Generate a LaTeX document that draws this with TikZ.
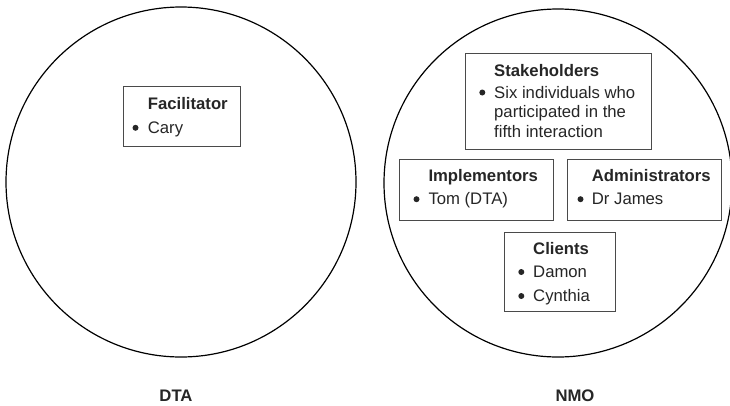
\documentclass[tikz,border=0pt]{standalone}
\usepackage{fontspec}
\setmainfont{Liberation Sans}
\definecolor{txt}{HTML}{262626}
\definecolor{boxgray}{HTML}{4A4A4A}
\begin{document}
\begin{tikzpicture}[x=1pt,y=-1pt,
  circ/.style={circle, draw=black, line width=1.2pt, inner sep=0pt},
  box/.style={rectangle, draw=boxgray, line width=0.9pt, inner sep=0pt, anchor=north west},
  ttl/.style={anchor=base west, inner sep=0pt, font=\fontsize{16.7}{20}\selectfont\bfseries, text=txt},
  itm/.style={anchor=base west, inner sep=0pt, font=\fontsize{16.7}{20}\selectfont, text=txt},
  lbl/.style={anchor=base, inner sep=0pt, font=\fontsize{16.7}{20}\selectfont\bfseries, text=txt},
  dot/.style={circle, fill=txt, inner sep=0pt, minimum size=6pt}]
\useasboundingbox (0,0) rectangle (730,405);
\fill[white] (0,0) rectangle (730,405);

% circles
\node[circ, minimum size=350pt] (dta) at (181,182) {};
\node[circ, minimum size=348pt] (nmo) at (558,183) {};

% Facilitator
\node[box, minimum width=117.6pt, minimum height=59.5pt] (facbox) at (122.7,86.2) {};
\node[ttl] (factitle) at (147.7,109.3) {Facilitator};
\node[dot] (facd1) at (135.5,127.8) {};
\node[itm] (fac1) at (147.7,133.3) {Cary};

% Stakeholders
\node[box, minimum width=185.7pt, minimum height=95.4pt] (stkbox) at (465,53.3) {};
\node[ttl] (stktitle) at (494,76.5) {Stakeholders};
\node[dot] (stkd1) at (482.3,92.5) {};
\node[itm] (stk1) at (494,98) {Six individuals who};
\node[itm] (stk2) at (494,117.5) {participated in the};
\node[itm] (stk3) at (494,137) {fifth interaction};

% Implementors
\node[box, minimum width=154pt, minimum height=60.7pt] (impbox) at (399.3,159.3) {};
\node[ttl] (imptitle) at (428.3,181.7) {Implementors};
\node[dot] (impd1) at (416.5,199.2) {};
\node[itm] (imp1) at (428.3,204.7) {Tom (DTA)};

% Administrators
\node[box, minimum width=154pt, minimum height=60.7pt] (admbox) at (566.8,159.3) {};
\node[ttl] (admtitle) at (591.7,181.7) {Administrators};
\node[dot] (admd1) at (580.5,199.2) {};
\node[itm] (adm1) at (591.7,204.7) {Dr James};

% Clients
\node[box, minimum width=110.2pt, minimum height=78.7pt] (clibox) at (504.3,232.3) {};
\node[ttl] (clititle) at (533,254) {Clients};
\node[dot] (clid1) at (521.3,272) {};
\node[itm] (cli1) at (533,277.5) {Damon};
\node[dot] (clid2) at (521.3,296) {};
\node[itm] (cli2) at (533,301.5) {Cynthia};

% labels
\node[lbl] (dtalbl) at (176,401.7) {DTA};
\node[lbl] (nmolbl) at (575,401.7) {NMO};
\end{tikzpicture}
\end{document}
